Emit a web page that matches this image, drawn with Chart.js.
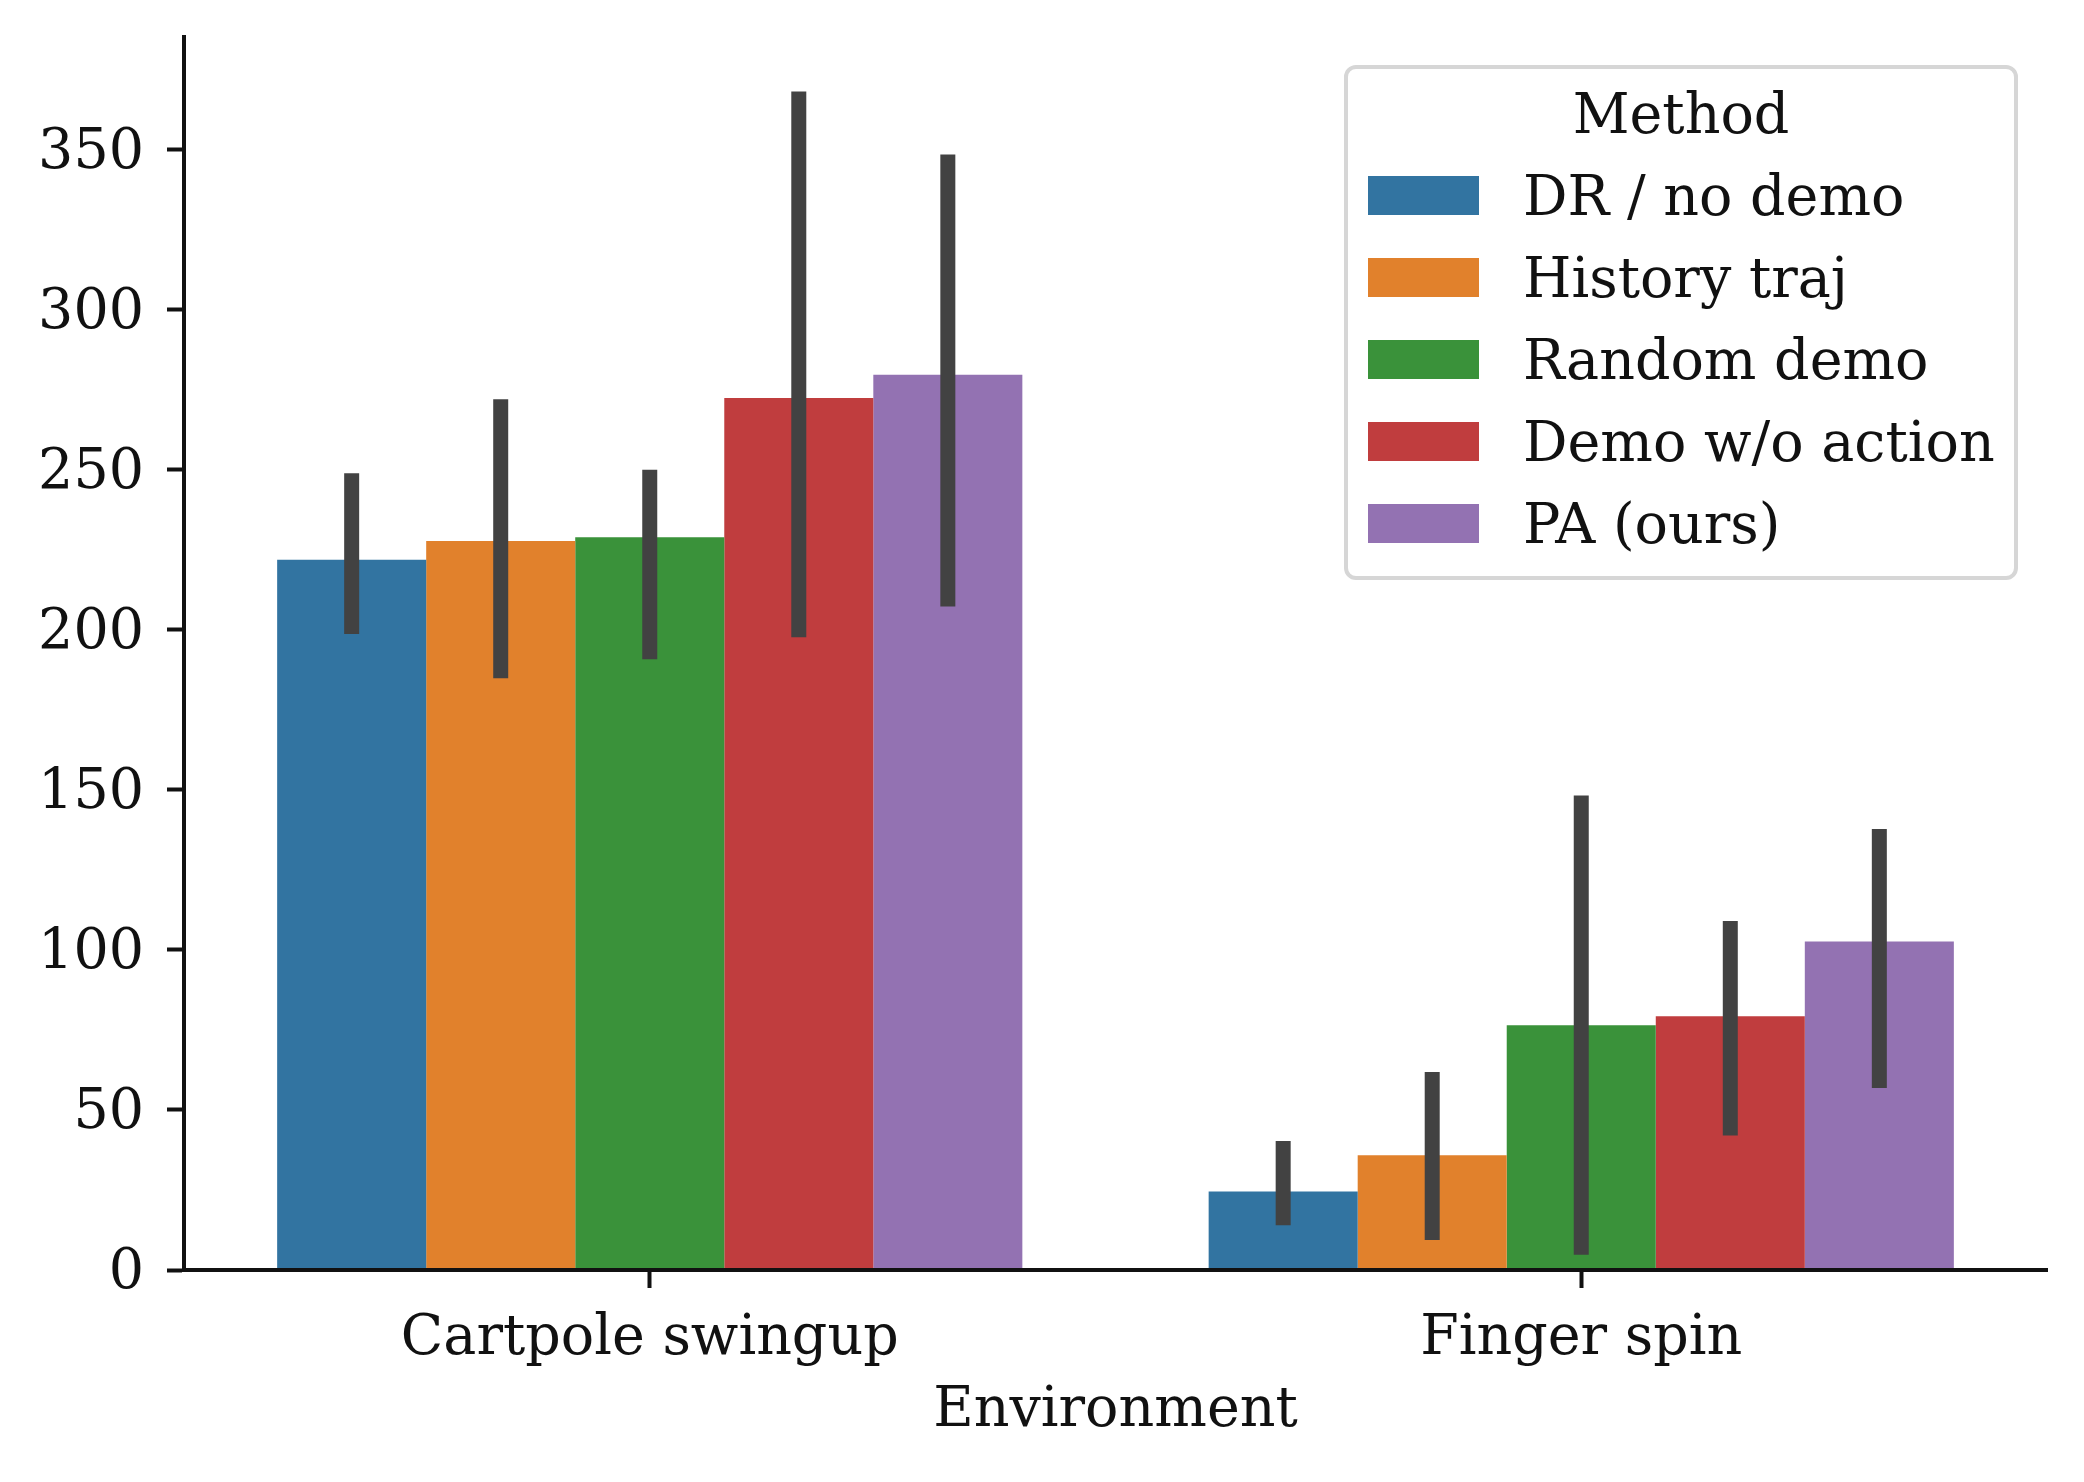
<!DOCTYPE html>
<html>
<head>
<meta charset="utf-8">
<script src="https://cdn.jsdelivr.net/npm/chart.js@4.4.1/dist/chart.umd.min.js"></script>
<style>
  html, body { margin: 0; padding: 0; background: #fff; }
  #wrap { width: 2084px; height: 1482px; }
</style>
</head>
<body>
<div id="wrap"><canvas id="myChart" width="2084" height="1482"></canvas></div>
<script>
// data
const environments = ['Cartpole swingup', 'Finger spin'];
const methods = ['DR / no demo', 'History traj', 'Random demo', 'Demo w/o action', 'PA (ours)'];
const colors = ['#3274a1', '#e1812c', '#3a923a', '#c03d3e', '#9372b2'];

const meanDR = [221.8, 24.5];
const meanHistory = [227.6, 35.8];
const meanRandom = [228.8, 76.4];
const meanNoAction = [272.3, 79.2];
const meanPA = [279.5, 102.6];

const lowDR = [198.6, 14.0];
const lowHistory = [184.8, 9.4];
const lowRandom = [190.7, 4.8];
const lowNoAction = [197.6, 42.0];
const lowPA = [207.2, 56.8];

const highDR = [248.8, 40.3];
const highHistory = [271.9, 61.8];
const highRandom = [249.9, 148.2];
const highNoAction = [368.0, 109.0];
const highPA = [348.3, 137.7];

const yTicks = [0, 50, 100, 150, 200, 250, 300, 350];

const means = [meanDR, meanHistory, meanRandom, meanNoAction, meanPA];
const lows = [lowDR, lowHistory, lowRandom, lowNoAction, lowPA];
const highs = [highDR, highHistory, highRandom, highNoAction, highPA];

const FONT = "'DejaVu Serif', serif";
const FSIZE = 55.5;
const INK = '#111111';

// error bars on top of each bar
const errorBars = {
    id: 'errorBars',
    afterDatasetsDraw(chart) {
        const ctx = chart.ctx;
        const y = chart.scales.y;
        ctx.save();
        ctx.strokeStyle = '#424242';
        ctx.lineWidth = 15;
        ctx.lineCap = 'butt';
        chart.data.datasets.forEach((ds, i) => {
            const meta = chart.getDatasetMeta(i);
            meta.data.forEach((bar, j) => {
                ctx.beginPath();
                ctx.moveTo(bar.x, y.getPixelForValue(lows[i][j]));
                ctx.lineTo(bar.x, y.getPixelForValue(highs[i][j]));
                ctx.stroke();
            });
        });
        ctx.restore();
    }
};

// matplotlib-like legend box in the upper right
const boxLegend = {
    id: 'boxLegend',
    afterDraw(chart) {
        const ctx = chart.ctx;
        const bx = 1346, by = 67, bw = 670, bh = 511, r = 10;
        ctx.save();
        ctx.beginPath();
        ctx.roundRect(bx, by, bw, bh, r);
        ctx.fillStyle = 'rgba(255,255,255,0.8)';
        ctx.fill();
        ctx.lineWidth = 4;
        ctx.strokeStyle = '#d6d6d6';
        ctx.stroke();

        ctx.fillStyle = INK;
        ctx.font = FSIZE + 'px ' + FONT;
        ctx.textBaseline = 'alphabetic';
        ctx.textAlign = 'center';
        ctx.fillText('Method', bx + bw / 2, 133);

        ctx.textAlign = 'left';
        chart.data.datasets.forEach((ds, i) => {
            const top = 176 + i * 82;
            ctx.fillStyle = ds.backgroundColor;
            ctx.fillRect(1368, top, 111, 39);
            ctx.fillStyle = INK;
            ctx.fillText(ds.label, 1523, top + 39);
        });
        ctx.restore();
    }
};

const datasets = methods.map((m, i) => ({
    label: m,
    data: means[i],
    backgroundColor: colors[i],
    borderWidth: 0,
    categoryPercentage: 0.8,
    barPercentage: 1.0
}));

const ctx = document.getElementById('myChart');
new Chart(ctx, {
    type: 'bar',
    data: { labels: environments, datasets: datasets },
    options: {
        responsive: false,
        animation: false,
        devicePixelRatio: 1,
        layout: { padding: { top: 37, right: 37, left: 0, bottom: 0 } },
        plugins: {
            legend: { display: false },
            tooltip: { enabled: false }
        },
        scales: {
            x: {
                afterFit: (scale) => {
                    scale.height = 212;
                    scale.paddingLeft = 0;
                    scale.paddingRight = 0;
                },
                grid: {
                    offset: false,
                    drawOnChartArea: false,
                    drawTicks: true,
                    tickLength: 18,
                    tickWidth: 4,
                    tickColor: INK
                },
                border: { display: true, color: INK, width: 4, z: 1 },
                ticks: {
                    color: INK,
                    padding: 18,
                    font: { family: FONT, size: FSIZE }
                },
                title: {
                    display: true,
                    text: 'Environment',
                    color: INK,
                    font: { family: FONT, size: FSIZE },
                    padding: { top: 0, bottom: 37 }
                }
            },
            y: {
                min: 0,
                max: 385,
                afterFit: (scale) => {
                    scale.width = 184;
                    scale.paddingTop = 0;
                    scale.paddingBottom = 0;
                },
                afterBuildTicks: (scale) => { scale.ticks = yTicks.map(v => ({ value: v })); },
                grid: {
                    drawOnChartArea: false,
                    drawTicks: true,
                    tickLength: 17,
                    tickWidth: 4,
                    tickColor: INK
                },
                border: { display: true, color: INK, width: 4, z: 1 },
                ticks: {
                    color: INK,
                    padding: 23,
                    labelOffset: 4,
                    font: { family: FONT, size: FSIZE }
                }
            }
        }
    },
    plugins: [errorBars, boxLegend]
});
</script>
</body>
</html>
